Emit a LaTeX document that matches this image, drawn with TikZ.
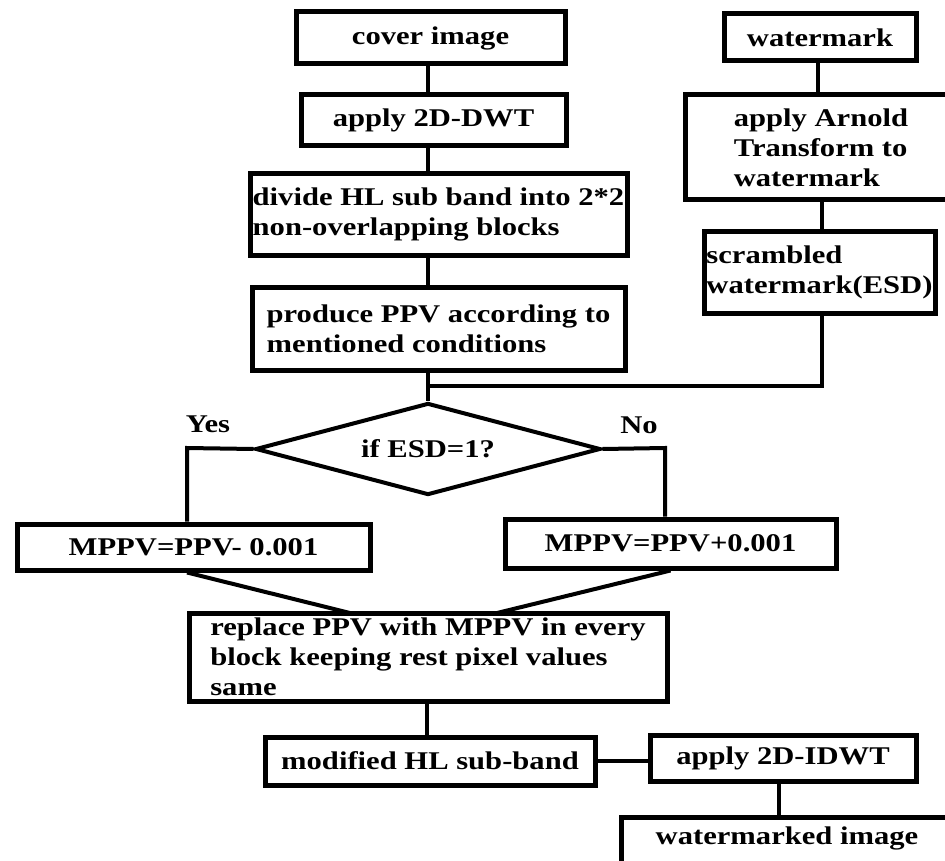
\documentclass[tikz,border=0pt]{standalone}
\usepackage{fontspec}
\setmainfont{Liberation Serif}[FakeStretch=1.2]
\usetikzlibrary{shapes.geometric}
\tikzset{
  txtfont/.style={font=\bfseries\fontsize{25.5}{30}\selectfont},
  box/.style={draw, rectangle, line width=5pt, align=left, inner sep=2pt, txtfont},
  conn/.style={line width=4pt},
  lbl/.style={txtfont, inner sep=0pt},
}
\begin{document}
\begin{tikzpicture}[x=1pt,y=-1pt]
\path[use as bounding box] (0,0) rectangle (945,861);
\clip (0,0) rectangle (945,861);

% left column
\node[box, minimum width=269pt, minimum height=52pt] (cover) at (430.5,38) {cover image};
\node[box, minimum width=265pt, minimum height=51pt] (dwt) at (433.5,120) {apply 2D-DWT};
\node[box, minimum width=377pt, minimum height=81pt] (divide) at (438.5,214.5) {divide HL sub band into 2*2\\non-overlapping blocks};
\node[box, minimum width=373pt, minimum height=83pt] (produce) at (438.5,328.5) {produce PPV according to\\mentioned conditions};

% right column
\node[box, minimum width=192pt, minimum height=47pt] (wm) at (820,37.5) {watermark};
\node[box, minimum width=272pt, minimum height=105pt] (arnold) at (821,147.5) {apply Arnold\\Transform to\\watermark};
\node[box, minimum width=231pt, minimum height=81pt] (scr) at (819.5,272.5) {scrambled\\watermark(ESD)};

% decision
\node[draw, diamond, aspect=3.75, line width=4pt, minimum width=345pt, minimum height=92pt, inner sep=0pt, txtfont] (dec) at (428,449) {if ESD=1?};
\node[lbl] (yes) at (208,424) {Yes};
\node[lbl] (no) at (639,425) {No};

\node[box, minimum width=353pt, minimum height=46pt] (mppvl) at (193.5,547) {MPPV=PPV- 0.001};
\node[box, minimum width=331pt, minimum height=49pt] (mppvr) at (670.5,543.5) {MPPV=PPV+0.001};

\node[box, minimum width=478pt, minimum height=88pt] (replace) at (428,657) {replace PPV with MPPV in every\\block keeping rest pixel values\\same};
\node[box, minimum width=330pt, minimum height=48pt] (modhl) at (430,761) {modified HL sub-band};
\node[box, minimum width=266pt, minimum height=46pt] (idwt) at (783,758) {apply 2D-IDWT};
\node[box, minimum width=340pt, minimum height=70pt, anchor=north west] (wimg) at (619,815) {};
\node[lbl] (wimgtxt) at (787,838) {watermarked image};

% coordinates
\coordinate (junc) at (428,386);
\coordinate (yesc) at (187,448);
\coordinate (noc) at (665,448);
\coordinate (jl) at (350,613);
\coordinate (jr) at (497,613);
\coordinate (rcol) at (822,0);

% connectors
\draw[conn] (cover.south -| junc) -- (dwt.north -| junc);
\draw[conn] (dwt.south -| junc) -- (divide.north -| junc);
\draw[conn] (divide.south -| junc) -- (produce.north -| junc);
\draw[conn] (produce.south -| junc) -- (junc) -- (dec.north);
\draw[conn] (wm.south -| 818,0) -- (arnold.north -| 818,0);
\draw[conn] (arnold.south -| rcol) -- (scr.north -| rcol);
\draw[conn] (scr.south -| rcol) -- (junc -| rcol) -- (junc);
\draw[conn] (dec.west) -- (yesc) -- (yesc |- mppvl.north);
\draw[conn] (dec.east) -- (noc) -- (noc |- mppvr.north);
\draw[conn] (mppvl.south -| yesc) -- (jl);
\draw[conn] (mppvr.south) -- (jr);
\draw[conn] (replace.south -| 427,0) -- (modhl.north -| 427,0);
\draw[conn] (modhl.east) -- (idwt.west |- modhl.east);
\draw[conn] (idwt.south -| 779,0) -- (wimg.north -| 779,0);
\end{tikzpicture}
\end{document}
